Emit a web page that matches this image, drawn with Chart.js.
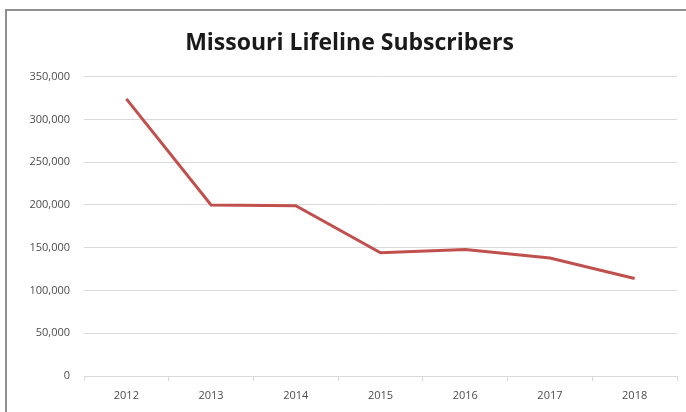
<!DOCTYPE html>
<html>
<head>
<meta charset="utf-8">
<script src="https://cdn.jsdelivr.net/npm/chart.js@4.4.1/dist/chart.umd.min.js"></script>
<style>
    html, body { margin: 0; padding: 0; background: #fff; }
    #wrap { position: relative; width: 686px; height: 412px; }
    #frame {
        position: absolute; left: 5px; top: 9px; right: 0; bottom: 0;
        border-top: 2px solid #8f8f8f; border-left: 2px solid #8f8f8f;
        pointer-events: none;
    }
</style>
</head>
<body>
<div id="wrap">
    <canvas id="lifelineChart" width="686" height="412"></canvas>
    <div id="frame"></div>
</div>
<script>
const years = ['2012', '2013', '2014', '2015', '2016', '2017', '2018'];
const subscribers = [324000, 200000, 199000, 144000, 148000, 138000, 114000];
const yTicks = [0, 50000, 100000, 150000, 200000, 250000, 300000, 350000];

document.addEventListener('DOMContentLoaded', function () {
    const ctx = document.getElementById('lifelineChart');
    new Chart(ctx.getContext('2d'), {
        type: 'line',
        data: {
            labels: years,
            datasets: [{
                label: 'Subscribers',
                data: subscribers,
                borderColor: '#c0504d',
                borderWidth: 3,
                pointRadius: 0,
                tension: 0,
                fill: false
            }]
        },
        options: {
            responsive: false,
            animation: false,
            layout: { padding: { left: 22, right: 9, top: 0, bottom: 0 } },
            plugins: {
                legend: { display: false },
                tooltip: { enabled: false },
                title: {
                    display: true,
                    text: 'Missouri Lifeline Subscribers',
                    color: '#1a1a1a',
                    font: { family: 'Open Sans', size: 23, weight: 'bold', lineHeight: 1.2 },
                    padding: { top: 30, bottom: 19 }
                }
            },
            scales: {
                x: {
                    offset: true,
                    grid: {
                        offset: true,
                        drawOnChartArea: false,
                        color: '#d9d9d9',
                        tickLength: 5
                    },
                    border: { display: true, color: '#d9d9d9' },
                    ticks: {
                        color: '#4d4d4d',
                        font: { family: 'Open Sans', size: 11 },
                        padding: 8
                    },
                    afterFit: function (scale) { scale.height = 36; }
                },
                y: {
                    min: 0,
                    max: 350000,
                    afterBuildTicks: function (scale) {
                        scale.ticks = yTicks.map(v => ({ value: v }));
                    },
                    grid: { color: '#d9d9d9', drawTicks: false },
                    border: { display: false },
                    ticks: {
                        color: '#4d4d4d',
                        font: { family: 'Open Sans', size: 11 },
                        padding: 14,
                        callback: v => v.toLocaleString('en-US')
                    },
                    afterFit: function (scale) { scale.width = 62; }
                }
            }
        }
    });
});
</script>
</body>
</html>
